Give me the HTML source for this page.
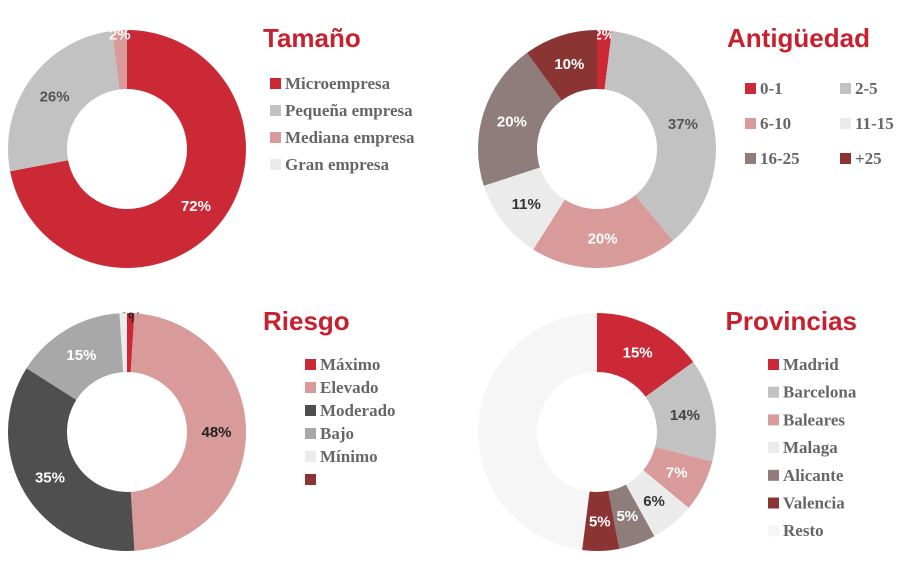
<!DOCTYPE html>
<html><head><meta charset="utf-8"><style>
body{margin:0;background:#fff;width:900px;height:566px;overflow:hidden}
svg{display:block}
.t{font-family:"Liberation Sans",sans-serif;font-weight:bold;fill:#c8202f;font-size:26px}
.lg{font-family:"Liberation Serif",serif;font-size:17px;fill:#666;font-weight:bold}
.pl{font-family:"Liberation Sans",sans-serif;font-weight:bold;font-size:15px}
</style></head><body>
<svg id="c" width="900" height="566"></svg>
<script>
const tamLabels=["Microempresa","Pequeña empresa","Mediana empresa","Gran empresa"];
const tamValues=[72,26,2,0];
const antLabels=["0-1","2-5","6-10","11-15","16-25","+25"];
const antValues=[2,37,20,11,20,10];
const rieLabels=["Máximo","Elevado","Moderado","Bajo","Mínimo",""];
const rieValues=[1,48,35,15,1,0];
const proLabels=["Madrid","Barcelona","Baleares","Malaga","Alicante","Valencia","Resto"];
const proValues=[15,14,7,6,5,5,48];
const NS="http://www.w3.org/2000/svg";
const svg=document.getElementById('c');
function el(t,a,p){const e=document.createElementNS(NS,t);for(const k in a)e.setAttribute(k,a[k]);(p||svg).appendChild(e);return e;}
const C={red:"#cc2936",gray:"#c2c2c2",pink:"#d99a9a",light:"#ebebeb",brown:"#8e7d7a",dred:"#8a3434",dgray:"#4f4f4f",resto:"#f6f6f6"};
function donut(cx,cy,ro,ri,vals,cols,txtCols,name){
  const g=el('g',{});
  
  
  const tot=vals.reduce((a,b)=>a+b,0);let a0=0;
  vals.forEach((v,i)=>{
    if(v<=0)return;
    const a1=a0+v/tot*2*Math.PI;
    const p=(a,r)=>[cx+r*Math.sin(a),cy-r*Math.cos(a)];
    const [x1,y1]=p(a0,ro),[x2,y2]=p(a1,ro),[x3,y3]=p(a1,ri),[x4,y4]=p(a0,ri);
    const lg=(a1-a0)>Math.PI?1:0;
    const s=el('path',{d:`M${x1},${y1}A${ro},${ro} 0 ${lg} 1 ${x2},${y2}L${x3},${y3}A${ri},${ri} 0 ${lg} 0 ${x4},${y4}Z`,fill:cols[i]},g);
    
    
    if(txtCols[i]){
      const am=(a0+a1)/2,[tx,ty]=p(am,(ro+ri)/2+(v<4?25:0));
      const t=el('text',{x:tx,y:ty+5,'text-anchor':'middle',class:'pl',fill:txtCols[i]},g);
      t.textContent=v+'%';
      
      
    }
    a0=a1;
  });
}
function title(x,y,txt,anchor){const t=el('text',{x,y,class:'t','text-anchor':anchor||'start'});t.textContent=txt;

}
function legend(items,cols,pos){items.forEach((l,i)=>{const [x,y]=pos(i);
const r=el('rect',{x,y:y-6,width:11,height:11,fill:cols[i]});


const t=el('text',{x:x+15,y:y+5,class:'lg'});t.textContent=l;

});}

donut(127,149,119,60,tamValues,[C.red,C.gray,C.pink,C.light],["#fff","#555","#fff",null],'tamano-donut');
title(263,47,"Tamaño");
legend(tamLabels,[C.red,C.gray,C.pink,C.light],i=>[270,84+i*27]);

donut(597,149,119,60,antValues,[C.red,C.gray,C.pink,C.light,C.brown,C.dred],["#fff","#555","#fff","#333","#fff","#fff"],'antiguedad-donut');
title(870,47,"Antigüedad","end");
legend(antLabels,[C.red,C.gray,C.pink,C.light,C.brown,C.dred],i=>[745+(i%2)*95,89+Math.floor(i/2)*35]);

donut(127,432,119,60,rieValues,[C.red,C.pink,C.dgray,"#a8a8a8",C.light,C.dred],["#222","#222","#fff","#fff",null,null],'riesgo-donut');
title(263,330,"Riesgo");
legend(rieLabels,[C.red,C.pink,C.dgray,"#a8a8a8",C.light,C.dred],i=>[305,365+i*23]);

donut(597,432,119,60,proValues,[C.red,C.gray,C.pink,C.light,C.brown,C.dred,C.resto],["#fff","#444","#fff","#333","#fff","#fff",null],'provincias-donut');
title(857,330,"Provincias","end");
legend(proLabels,[C.red,C.gray,C.pink,C.light,C.brown,C.dred,C.resto],i=>[768,365+i*27.7]);
</script>
</body></html>
